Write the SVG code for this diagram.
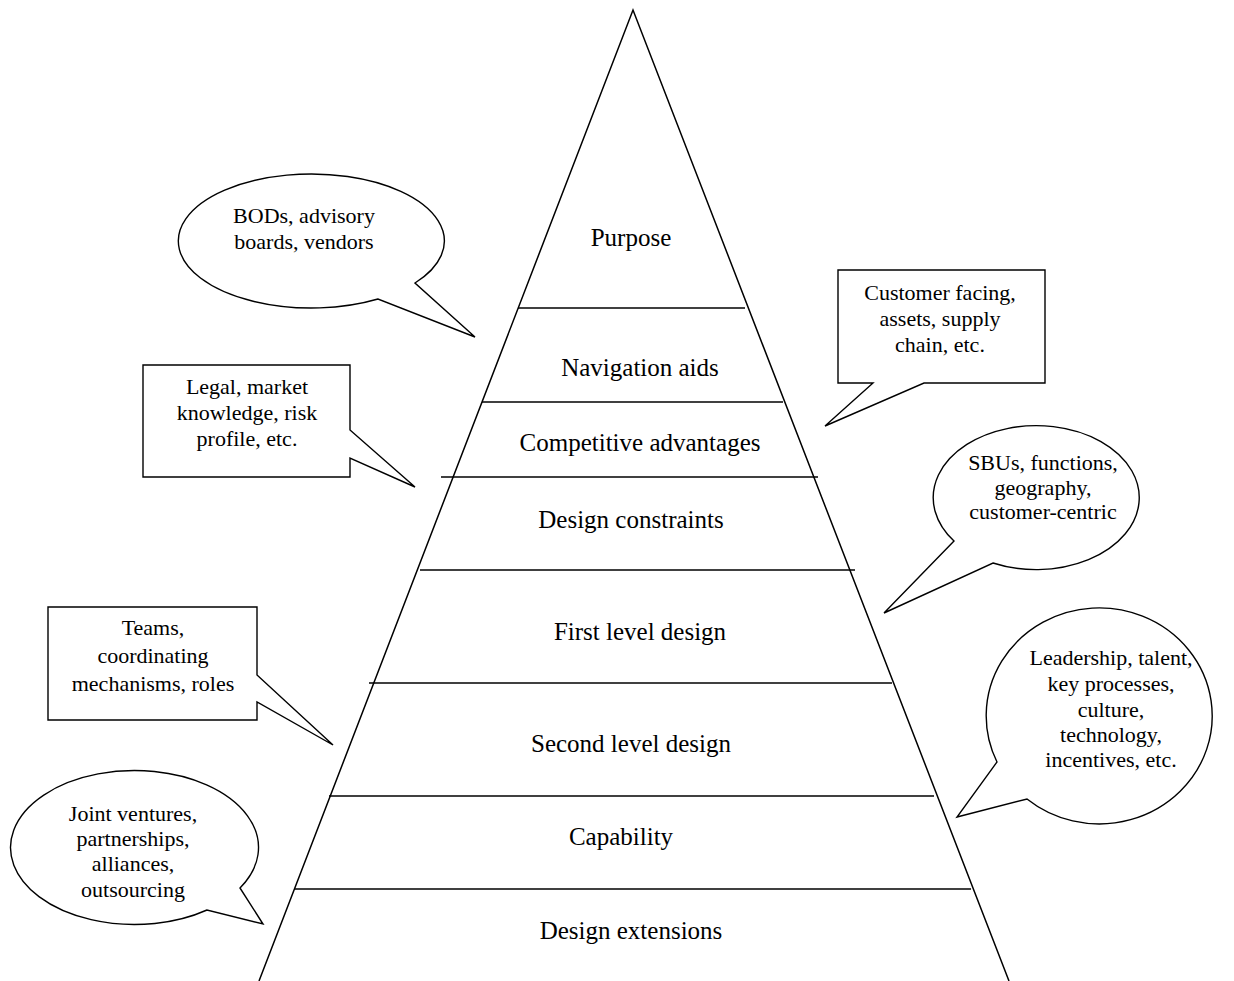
<svg xmlns="http://www.w3.org/2000/svg" width="1234" height="981" viewBox="0 0 1234 981">
<style>
.ln{stroke:#000;stroke-width:1.5;fill:none}
.co{stroke:#000;stroke-width:1.4;fill:#fff;stroke-linejoin:miter}
.lbl{font-family:"Liberation Serif","Times New Roman",serif;font-size:25px;fill:#000;text-anchor:middle}
.ct{font-family:"Liberation Serif","Times New Roman",serif;font-size:22px;fill:#000;text-anchor:middle}
</style>
<rect width="1234" height="981" fill="#fff"/>
<g id="pyramid">
<path class="ln" d="M259 981 L633 10 L1009 981"/>
<line class="ln" x1="518" y1="308" x2="745" y2="308"/>
<line class="ln" x1="482" y1="402" x2="783" y2="402"/>
<line class="ln" x1="441" y1="477" x2="818" y2="477"/>
<line class="ln" x1="420" y1="570" x2="855" y2="570"/>
<line class="ln" x1="369" y1="683" x2="892" y2="683"/>
<line class="ln" x1="329" y1="796" x2="934" y2="796"/>
<line class="ln" x1="294" y1="889" x2="971" y2="889"/>
</g>
<g id="levels">
<text class="lbl" x="631" y="246">Purpose</text>
<text class="lbl" x="640" y="376">Navigation aids</text>
<text class="lbl" x="640" y="451">Competitive advantages</text>
<text class="lbl" x="631" y="528">Design constraints</text>
<text class="lbl" x="640" y="640">First level design</text>
<text class="lbl" x="631" y="752">Second level design</text>
<text class="lbl" x="621" y="845">Capability</text>
<text class="lbl" x="631" y="939">Design extensions</text>
</g>
<g id="callout-bods">
<path class="co" d="M378 299 A133 67 0 1 1 415 283 L475 337 Z"/>
<text class="ct" x="304" y="223">BODs, advisory</text>
<text class="ct" x="304" y="249">boards, vendors</text>
</g>
<g id="callout-customer">
<path class="co" d="M838 270 H1045 V383 H924 L825 426 L873 383 H838 Z"/>
<text class="ct" x="940" y="300">Customer facing,</text>
<text class="ct" x="940" y="326">assets, supply</text>
<text class="ct" x="940" y="352">chain, etc.</text>
</g>
<g id="callout-legal">
<path class="co" d="M143 365 H350 V430 L415 487 L350 458 V477 H143 Z"/>
<text class="ct" x="247" y="394">Legal, market</text>
<text class="ct" x="247" y="420">knowledge, risk</text>
<text class="ct" x="247" y="446">profile, etc.</text>
</g>
<g id="callout-sbus">
<path class="co" d="M954 541 A103 72 0 1 1 993 563 L884 613 Z"/>
<text class="ct" x="1043" y="470">SBUs, functions,</text>
<text class="ct" x="1043" y="495">geography,</text>
<text class="ct" x="1043" y="519">customer-centric</text>
</g>
<g id="callout-teams">
<path class="co" d="M48 607 H257 V675 L333 745 L257 702 V720 H48 Z"/>
<text class="ct" x="153" y="635">Teams,</text>
<text class="ct" x="153" y="663">coordinating</text>
<text class="ct" x="153" y="691">mechanisms, roles</text>
</g>
<g id="callout-leadership">
<path class="co" d="M997 762 A113 108 0 1 1 1027 799 L957 817 Z"/>
<text class="ct" x="1111" y="665">Leadership, talent,</text>
<text class="ct" x="1111" y="691">key processes,</text>
<text class="ct" x="1111" y="717">culture,</text>
<text class="ct" x="1111" y="742">technology,</text>
<text class="ct" x="1111" y="767">incentives, etc.</text>
</g>
<g id="callout-joint">
<path class="co" d="M207 910 A124 77 0 1 1 240 888 L263 924 Z"/>
<text class="ct" x="133" y="821">Joint ventures,</text>
<text class="ct" x="133" y="846">partnerships,</text>
<text class="ct" x="133" y="871">alliances,</text>
<text class="ct" x="133" y="897">outsourcing</text>
</g>
</svg>
